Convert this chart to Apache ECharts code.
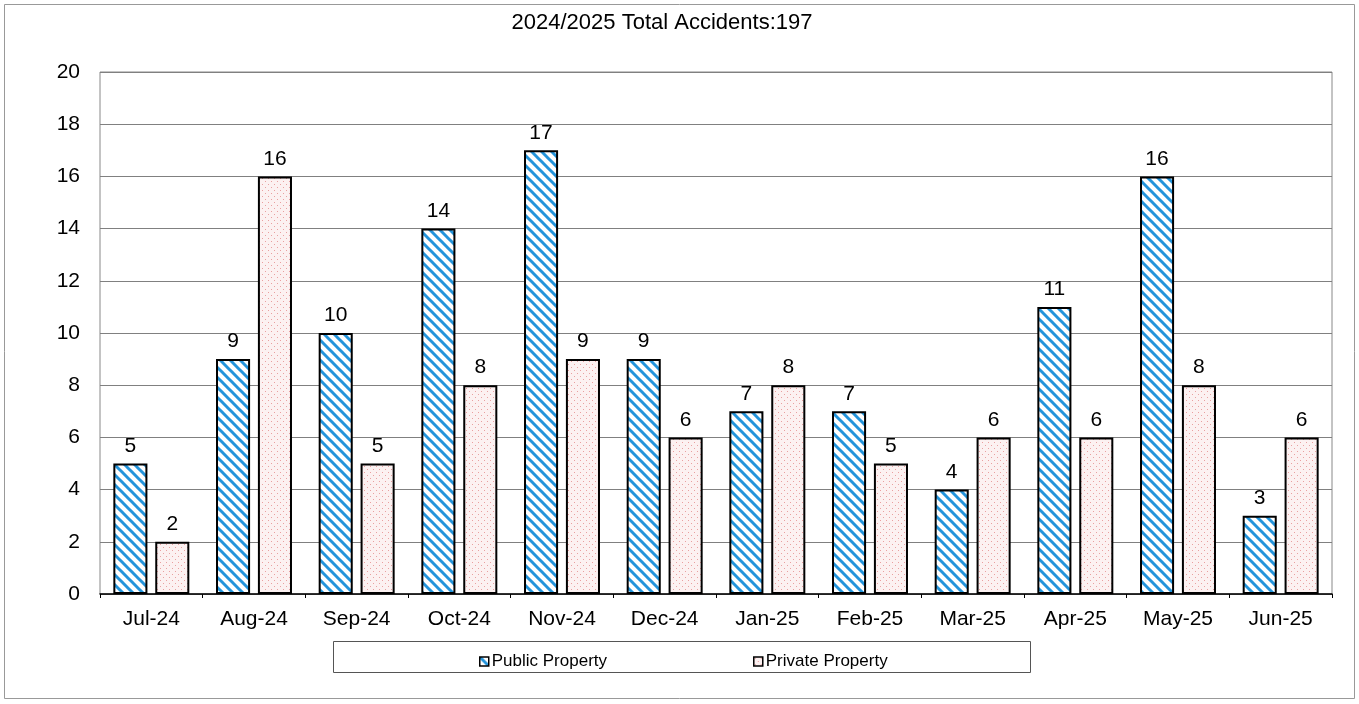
<!DOCTYPE html>
<html>
<head>
<meta charset="utf-8">
<script src="https://cdn.jsdelivr.net/npm/echarts@6/dist/echarts.min.js"></script>
<style>html,body{margin:0;padding:0;background:#fff}#c{width:1359px;height:704px}</style>
</head>
<body>
<div id="c"></div>
<script>
var categories = ['Jul-24','Aug-24','Sep-24','Oct-24','Nov-24','Dec-24','Jan-25','Feb-25','Mar-25','Apr-25','May-25','Jun-25'];
var publicProperty = [5,9,10,14,17,9,7,7,4,11,16,3];
var privateProperty = [2,16,5,8,9,6,8,5,6,6,8,6];
var seriesNames = ['Public Property','Private Property'];
var titleText = '2024/2025 Total Accidents:197';

function stripePattern() {
  var s = 10, c = document.createElement('canvas');
  c.width = s; c.height = s;
  var g = c.getContext('2d');
  g.fillStyle = '#ffffff'; g.fillRect(0,0,s,s);
  g.strokeStyle = '#2494db'; g.lineWidth = 3;
  for (var k = -s; k <= s; k += s) {
    g.beginPath(); g.moveTo(k - 2, -2); g.lineTo(k + s + 2, s + 2); g.stroke();
  }
  return {image: c, repeat: 'repeat'};
}
function dotPattern() {
  var s = 6, c = document.createElement('canvas');
  c.width = s; c.height = s;
  var g = c.getContext('2d');
  g.fillStyle = '#fcf1f1'; g.fillRect(0,0,s,s);
  g.fillStyle = '#e9a0a0';
  g.fillRect(1,1,1,1); g.fillRect(4,4,1,1);
  return {image: c, repeat: 'repeat'};
}

var chart = echarts.init(document.getElementById('c'), null, {renderer: 'canvas'});
var font = 'Liberation Sans, Arial, sans-serif';
chart.setOption({
  animation: false,
  backgroundColor: '#fff',
  textStyle: {fontFamily: font},
  title: {text: titleText, left: 657, textAlign: 'center', top: 7, textStyle: {fontSize: 22, fontWeight: 'normal', color: '#000', fontFamily: font}},
  graphic: [
    {type: 'rect', shape: {x: 4.5, y: 4.5, width: 1350, height: 694}, style: {fill: 'none', stroke: '#999', lineWidth: 1}, z: -1},
    {type: 'rect', shape: {x: 333.5, y: 641.5, width: 697, height: 31}, style: {fill: 'none', stroke: '#555', lineWidth: 1}, z: 1}
  ],
  legend: {
    data: seriesNames, left: 474, top: 648, itemGap: 146, icon: 'rect', itemWidth: 9, itemHeight: 9,
    textStyle: {fontSize: 17, color: '#000', fontFamily: font, padding: [0,0,0,-2]},
    itemStyle: {borderColor: '#000', borderWidth: 1.5}
  },
  grid: {left: 100, right: 27, top: 72, bottom: 110, show: true, borderColor: '#888', borderWidth: 1},
  xAxis: {
    type: 'category', data: categories,
    axisLine: {lineStyle: {color: '#000', width: 1.5}},
    axisTick: {show: true, length: 4, lineStyle: {color: '#000'}},
    axisLabel: {fontSize: 21, color: '#000', margin: 15, fontFamily: font}
  },
  yAxis: {
    type: 'value', min: 0, max: 20, interval: 2,
    axisLine: {show: false}, axisTick: {show: false},
    splitLine: {lineStyle: {color: '#808080', width: 1}},
    axisLabel: {fontSize: 21, color: '#000', margin: 20, fontFamily: font}
  },
  series: [
    {name: seriesNames[0], type: 'bar', data: publicProperty, barGap: '23%', barCategoryGap: '26%',
     itemStyle: {color: stripePattern(), borderColor: '#000', borderWidth: 2},
     label: {show: true, position: 'top', distance: 7, fontSize: 21, color: '#000', fontFamily: font}},
    {name: seriesNames[1], type: 'bar', data: privateProperty,
     itemStyle: {color: dotPattern(), borderColor: '#000', borderWidth: 2},
     label: {show: true, position: 'top', distance: 7, fontSize: 21, color: '#000', fontFamily: font}}
  ]
});
</script>
</body>
</html>
